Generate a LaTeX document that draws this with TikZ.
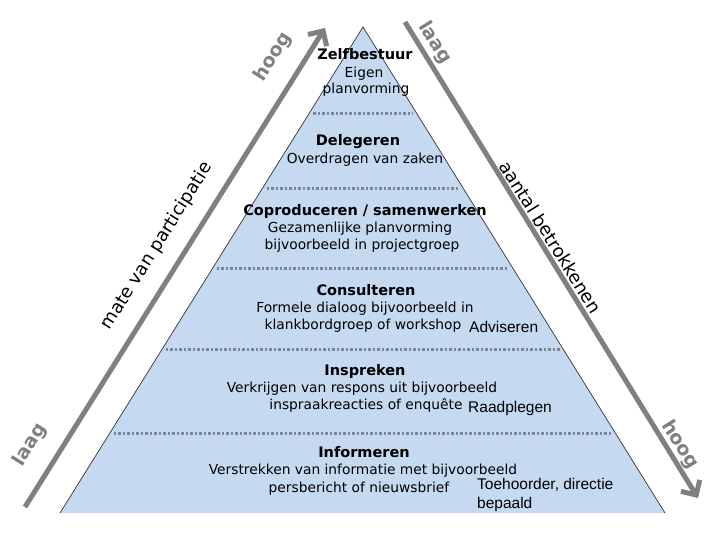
\documentclass[tikz,border=0pt]{standalone}
\usepackage{fontspec}
\setmainfont{DejaVu Sans}
\newfontfamily\arialfont{Liberation Sans}
\usetikzlibrary{arrows.meta,calc}
\definecolor{pyrfill}{RGB}{197,217,241}
\definecolor{axisgray}{RGB}{128,128,128}
\definecolor{dotgray}{RGB}{125,132,150}
\tikzset{
  axisline/.style={draw=axisgray,line width=5pt},
  axisarrow/.style={axisline,-{Straight Barb[length=11pt,width=22pt,line width=5pt]}},
  axisword/.style={text=axisgray,font=\bfseries\fontsize{19}{22}\selectfont,inner sep=0pt},
  axistitle/.style={text=black,font=\fontsize{18}{21}\selectfont,inner sep=0pt},
  sep/.style={draw=dotgray,line width=3pt,dash pattern=on 2.5pt off 2pt},
  headtxt/.style={font=\bfseries\fontsize{14.5}{16}\selectfont,anchor=mid,inner sep=0pt},
  bodytxt/.style={font=\fontsize{13.8}{15}\selectfont,anchor=mid,inner sep=0pt},
  sidetxt/.style={font=\arialfont\fontsize{15.5}{18}\selectfont,anchor=mid west,inner sep=0pt}
}
\begin{document}
\begin{tikzpicture}[x=1pt,y=-1pt]
\useasboundingbox (0,0) rectangle (720,540);
\fill[white] (0,0) rectangle (720,540);
% pyramid
\coordinate (apex) at (363,27);
\coordinate (bl) at (60,513);
\coordinate (br) at (665,513);
\fill[pyrfill] (apex) -- (br) -- (bl) -- cycle;
\draw[black!80,line width=0.7pt] (bl) -- (apex) -- (br);
% separators
\foreach \t/\n in {0.177/s1,0.3313/s2,0.4959/s3,0.6646/s4,0.8354/s5}{
  \coordinate (\n l) at ($(apex)!\t!(bl)+(4,0)$);
  \coordinate (\n r) at ($(apex)!\t!(br)+(-4,0)$);
  \draw[sep] (\n l) -- (\n r);
}
% axes
\coordinate (la) at (25,507);
\coordinate (lb) at (325,28);
\coordinate (ra) at (405,22);
\coordinate (rb) at (698,498);
\draw[axisarrow] (la) -- (lb);
\draw[axisarrow] (ra) -- (rb);
\node[axisword,rotate=58] (lhoog) at (273,57) {hoog};
\node[axisword,rotate=58] (llaag) at (30,445) {laag};
\node[axistitle,rotate=58] (ltitle) at (157,246) {mate van participatie};
\node[axisword,rotate=-58] (rlaag) at (435,43) {laag};
\node[axisword,rotate=-58] (rhoog) at (680,445) {hoog};
\node[axistitle,rotate=-58] (rtitle) at (551,237) {aantal betrokkenen};
% level texts
\node[headtxt] (h1) at (365,57) {Zelfbestuur};
\node[bodytxt] (b1a) at (364,75) {Eigen};
\node[bodytxt] (b1b) at (366,91) {planvorming};
\node[headtxt] (h2) at (358,143) {Delegeren};
\node[bodytxt] (b2a) at (365,161) {Overdragen van zaken};
\node[headtxt] (h3) at (365,213) {Coproduceren / samenwerken};
\node[bodytxt] (b3a) at (360,230) {Gezamenlijke planvorming};
\node[bodytxt] (b3b) at (362,247) {bijvoorbeeld in projectgroep};
\node[headtxt] (h4) at (366,293) {Consulteren};
\node[bodytxt] (b4a) at (365,310) {Formele dialoog bijvoorbeeld in};
\node[bodytxt] (b4b) at (363,327) {klankbordgroep of workshop};
\node[sidetxt] (s4) at (469,330) {Adviseren};
\node[headtxt] (h5) at (365,373) {Inspreken};
\node[bodytxt] (b5a) at (362,390) {Verkrijgen van respons uit bijvoorbeeld};
\node[bodytxt] (b5b) at (366,407) {inspraakreacties of enquête};
\node[sidetxt] (s5) at (468,410) {Raadplegen};
\node[headtxt] (h6) at (364,455) {Informeren};
\node[bodytxt] (b6a) at (363,472) {Verstrekken van informatie met bijvoorbeeld};
\node[bodytxt] (b6b) at (359,490) {persbericht of nieuwsbrief};
\node[sidetxt] (s6a) at (477,487) {Toehoorder, directie};
\node[sidetxt] (s6b) at (477,506) {bepaald};
\end{tikzpicture}
\end{document}
